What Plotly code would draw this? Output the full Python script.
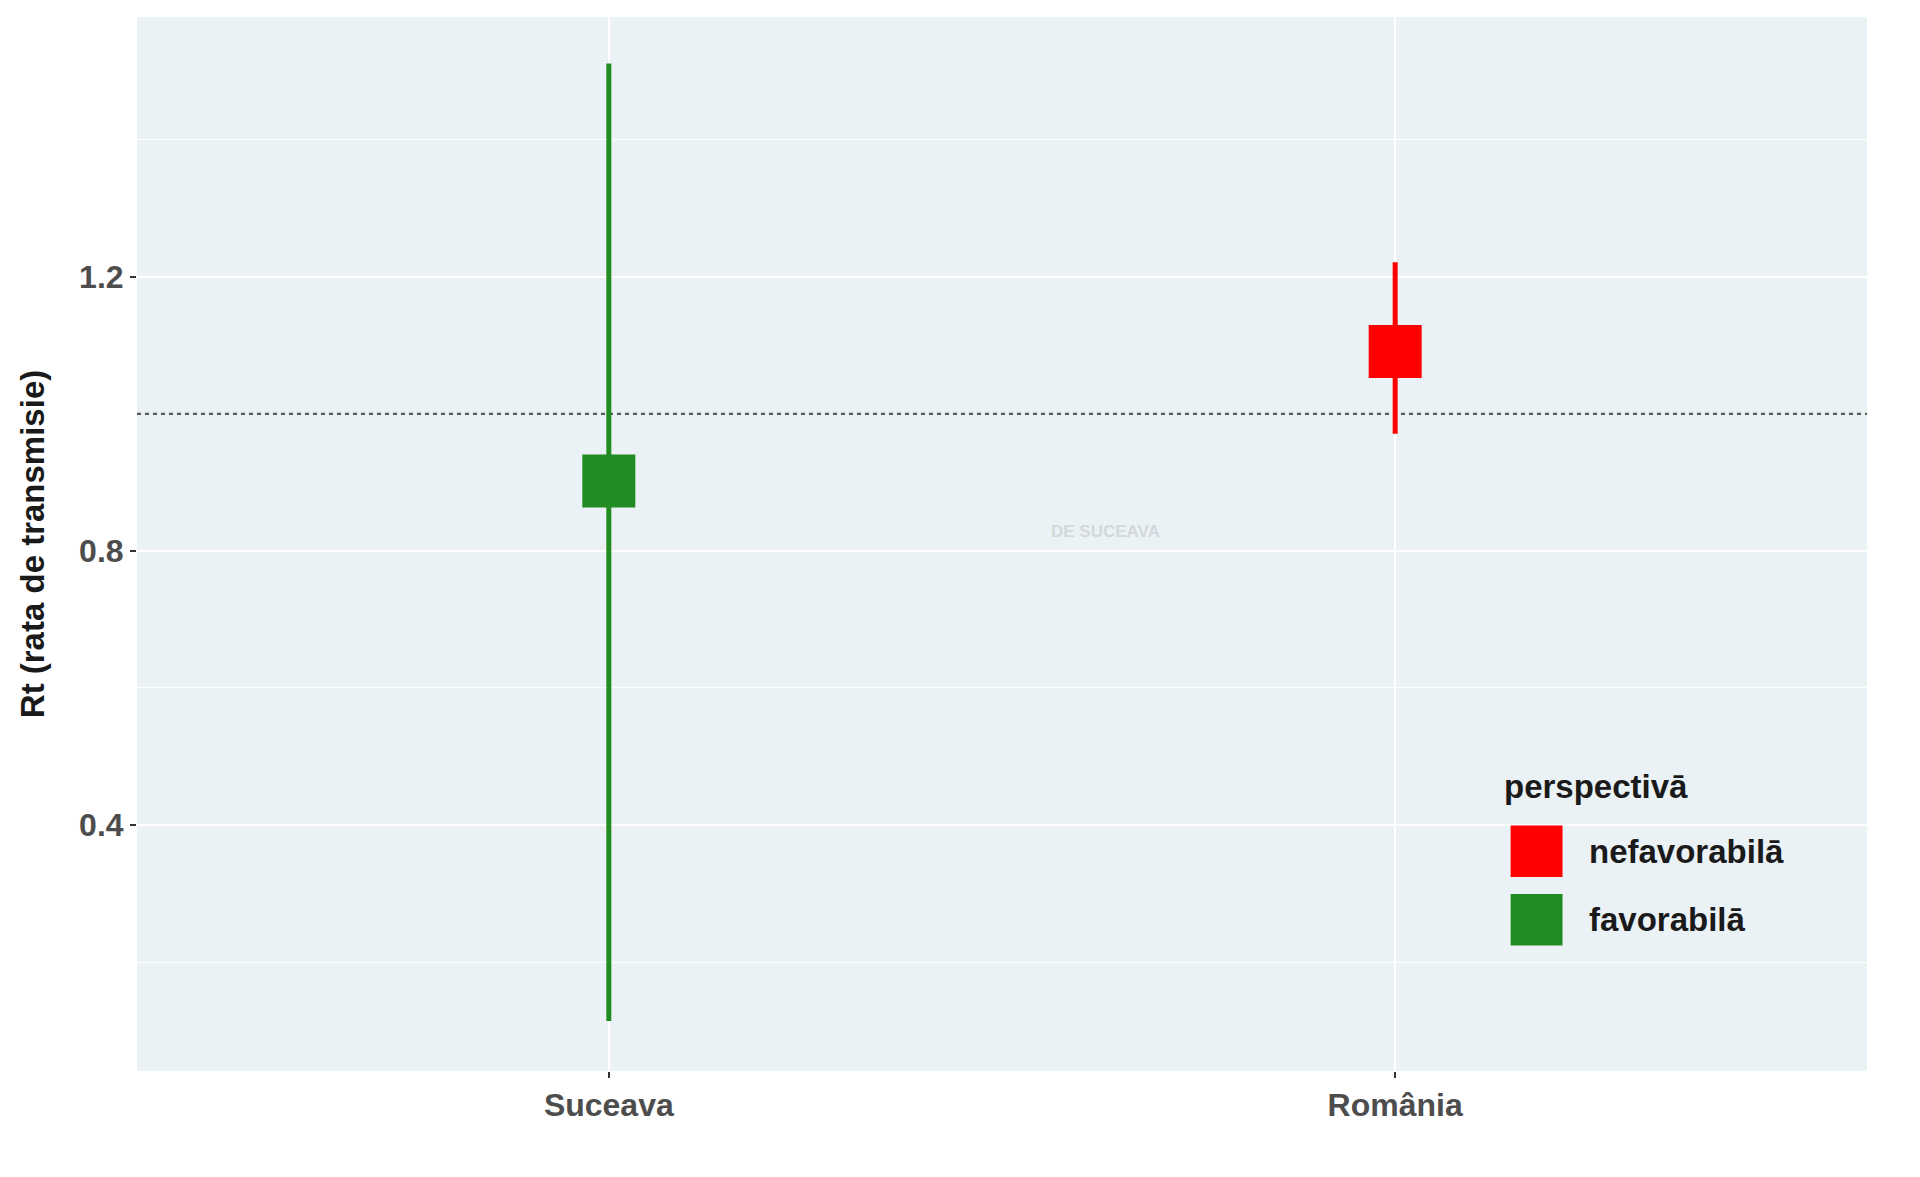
import plotly.graph_objects as go

# ---- data ----
regions = ["Suceava", "România"]
rt_estimate = [0.902, 1.091]
rt_lower = [0.114, 0.971]
rt_upper = [1.511, 1.221]
perspective = ["favorabilā", "nefavorabilā"]

legend_order = ["nefavorabilā", "favorabilā"]
legend_colors = ["#FF0000", "#228B22"]
legend_title = "perspectivā"

y_tickvals = [0.4, 0.8, 1.2]
y_ticktext = ["0.4", "0.8", "1.2"]
y_minor_grid = [0.2, 0.6, 1.4]
reference_value = 1.0
y_title = "Rt (rata de transmisie)"

color_of = dict(zip(legend_order, legend_colors))

PANEL_BG = "#EBF2F6"
FONT = "Liberation Sans, Arial, sans-serif"

fig = go.Figure()

for reg, est, lo, hi, p in zip(regions, rt_estimate, rt_lower, rt_upper, perspective):
    c = color_of[p]
    fig.add_trace(go.Scatter(
        x=[reg], y=[est], mode="markers", name=p, showlegend=False,
        marker=dict(symbol="square", size=53, color=c, line=dict(width=0)),
        error_y=dict(type="data", symmetric=False, array=[hi - est],
                     arrayminus=[est - lo], color=c, thickness=5, width=0),
    ))

fig.add_shape(type="line", xref="paper", yref="y", x0=0, x1=1,
              y0=reference_value, y1=reference_value,
              line=dict(color="#5A5A5A", width=2.2, dash="4px,4px"), layer="below")

# custom legend (ggplot-style large keys inside the panel)
fig.add_annotation(x=0.789, y=0.270, xref="paper", yref="paper", xanchor="left",
                   yanchor="middle", text=legend_title, showarrow=False,
                   font=dict(family=FONT, size=33, color="#1A1A1A", weight="bold"))
key_y = [0.2085, 0.1435]
for name, col, ky in zip(legend_order, legend_colors, key_y):
    fig.add_shape(type="rect", xref="paper", yref="paper",
                  x0=0.794, x1=0.824, y0=ky - 0.0245, y1=ky + 0.0245,
                  fillcolor=col, line=dict(width=0), layer="above")
    fig.add_annotation(x=0.838, y=ky, xref="paper", yref="paper", xanchor="left",
                       yanchor="middle", text=name, showarrow=False,
                       font=dict(family=FONT, size=33, color="#1A1A1A", weight="bold"))

# faint watermark
fig.add_annotation(x=0.56, y=0.512, xref="paper", yref="paper", text="DE SUCEAVA",
                   showarrow=False,
                   font=dict(family="Liberation Sans Narrow, Liberation Sans, Arial", size=17,
                             color="#D3D8DB", weight="bold"))

fig.update_layout(
    width=1920, height=1177,
    margin=dict(l=129, r=61, t=9, b=114),
    paper_bgcolor="white",
    plot_bgcolor=PANEL_BG,
    showlegend=False,
    font=dict(family=FONT),
    xaxis=dict(
        type="category", categoryorder="array", categoryarray=regions,
        range=[-0.6, 1.6], showgrid=True, gridcolor="white", gridwidth=2,
        zeroline=False, showline=False,
        ticks="outside", ticklen=6, tickwidth=1.5, tickcolor="#333333",
        tickfont=dict(family=FONT, size=32, color="#4D4D4D", weight="bold"),
    ),
    yaxis=dict(
        range=[0.041, 1.579], tickmode="array", tickvals=y_tickvals, ticktext=y_ticktext,
        showgrid=True, gridcolor="white", gridwidth=2,
        zeroline=False, showline=False,
        ticks="outside", ticklen=6, tickwidth=1.5, tickcolor="#333333",
        tickfont=dict(family=FONT, size=32, color="#4D4D4D", weight="bold"),
        minor=dict(tickmode="array", tickvals=y_minor_grid, showgrid=True,
                   gridcolor="white", gridwidth=1, ticks=""),
        title=dict(text=y_title, standoff=24,
                   font=dict(family=FONT, size=33, color="#1A1A1A", weight="bold")),
    ),
)

fig.write_html("out.html")
